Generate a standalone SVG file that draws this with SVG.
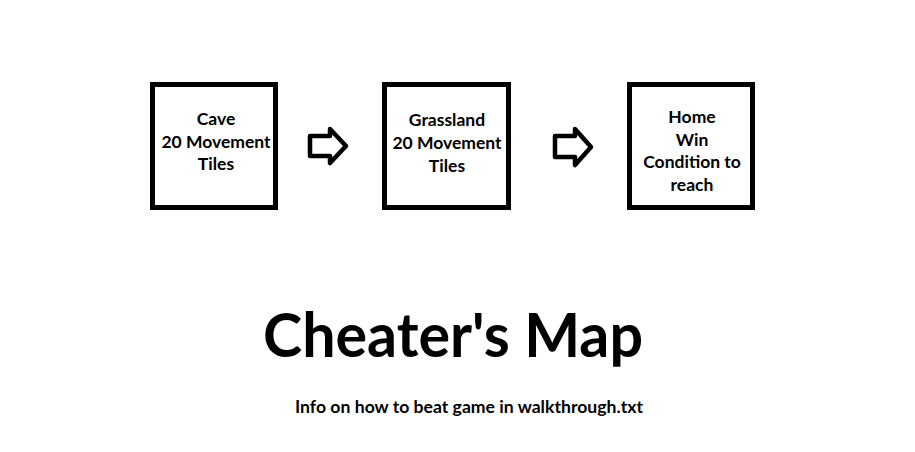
<svg xmlns="http://www.w3.org/2000/svg" width="915" height="452" viewBox="0 0 915 452">
<style>
.box{fill:#fff;stroke:#000;stroke-width:5}
.arr{fill:#fff;stroke:#000;stroke-width:4.5;stroke-linejoin:round}
.t{font-family:Lato,"Open Sans","Liberation Sans",sans-serif;font-weight:bold;font-size:17.5px;fill:#000;text-anchor:middle}
.title{font-family:Lato,"Open Sans","Liberation Sans",sans-serif;font-weight:bold;font-size:62px;fill:#000;text-anchor:middle}
.sub{font-family:Lato,"Open Sans","Liberation Sans",sans-serif;font-weight:bold;font-size:16.5px;fill:#000;text-anchor:middle}
</style>
<rect width="915" height="452" fill="#fff"/>
<g id="cave">
<rect class="box" x="152.5" y="84.5" width="123" height="123"/>
<text class="t" x="216" y="125">Cave</text>
<text class="t" x="216" y="148">20 Movement</text>
<text class="t" x="216" y="170">Tiles</text>
</g>
<g id="grassland">
<rect class="box" x="384.5" y="84.5" width="124" height="123"/>
<text class="t" x="447" y="126">Grassland</text>
<text class="t" x="447" y="149">20 Movement</text>
<text class="t" x="447" y="172">Tiles</text>
</g>
<g id="home">
<rect class="box" x="629.5" y="84.5" width="123" height="123"/>
<text class="t" x="692" y="123">Home</text>
<text class="t" x="692" y="146">Win</text>
<text class="t" x="692" y="168">Condition to</text>
<text class="t" x="692" y="191">reach</text>
</g>
<g id="connectors">
<path class="arr" d="M310,136 H330 V129 L346,146 L330,163 V156 H310 Z"/>
<path class="arr" d="M555,136 H575 V129 L591,147 L575,165 V157 H555 Z"/>
</g>
<g id="labels">
<text class="title" x="453" y="357" textLength="380" lengthAdjust="spacingAndGlyphs">Cheater's Map</text>
<text class="sub" x="469" y="413" textLength="348" lengthAdjust="spacingAndGlyphs">Info on how to beat game in walkthrough.txt</text>
</g>
</svg>
